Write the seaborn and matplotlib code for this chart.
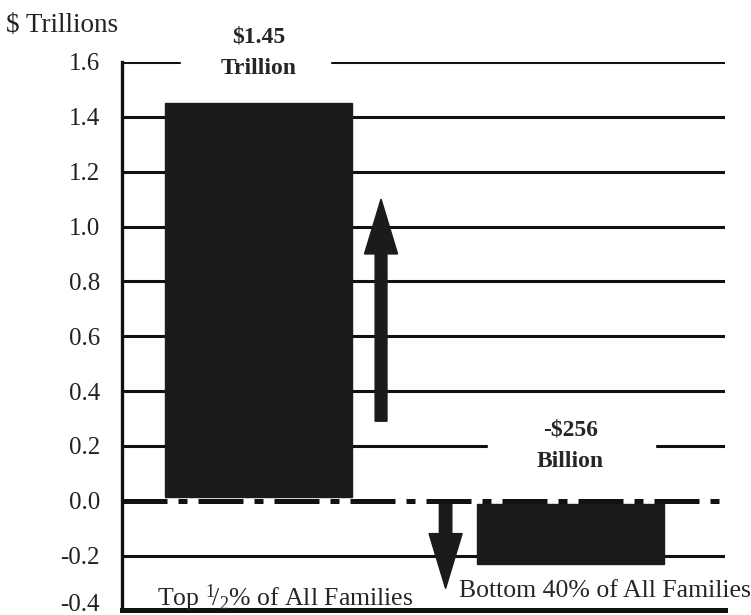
import matplotlib
matplotlib.use("Agg")
import matplotlib.pyplot as plt
import matplotlib.transforms as mtransforms
import seaborn as sns
import pandas as pd
from matplotlib.patches import Rectangle

# data ($ trillions)
groups = ["Top 1/2% of All Families", "Bottom 40% of All Families"]
group_labels = ["Top $^1\\!/_2$% of All Families", "Bottom 40% of All Families"]
change = [1.45, -0.23]
value_labels = ["\\$1.45\nTrillion", "-\\$256\nBillion"]
y_ticks = [-0.4, -0.2, 0.0, 0.2, 0.4, 0.6, 0.8, 1.0, 1.2, 1.4, 1.6]

sns.set_theme(style="white")
plt.rcParams["font.family"] = ["Liberation Serif", "DejaVu Serif"]
plt.rcParams["mathtext.fontset"] = "custom"
plt.rcParams["mathtext.rm"] = "Liberation Serif"
plt.rcParams["mathtext.it"] = "Liberation Serif:italic"

df = pd.DataFrame({"group": groups, "change": change})

fig = plt.figure(figsize=(7.51, 6.15), dpi=100)
ax = fig.add_axes([0.1625, 0.0075, 0.8025, 0.8917])

# grid lines behind the bars
for y in y_ticks:
    if y in (0.0, -0.4):
        continue
    ax.axhline(y, color="#111111", lw=2.2, zorder=1)

sns.barplot(data=df, x="group", y="change", color="#1b1b1b", width=0.6,
            saturation=1, ax=ax, zorder=2)
# leave a small gap between the bars and the zero line
gap = 0.012
for p in ax.patches:
    p.set_edgecolor("#1b1b1b")
    h = p.get_height()
    if h > 0:
        p.set_y(gap)
        p.set_height(h - gap)
    else:
        p.set_y(-gap)
        p.set_height(h + gap)

# dash-dot zero line
ax.axhline(0, color="#111111", lw=3.6, ls=(0, (9, 2.2, 1.8, 2.2)), zorder=4)

# value labels, gridline cut out behind them
ax.add_patch(Rectangle((-0.25, 1.57), 0.48, 0.06, color="white", zorder=3))
ax.add_patch(Rectangle((0.735, 0.17), 0.535, 0.06, color="white", zorder=3))
ax.text(0, 1.635, value_labels[0], ha="center", va="center", fontsize=17,
        fontweight="bold", linespacing=1.65, zorder=5, clip_on=False)
ax.text(1, 0.2, value_labels[1], ha="center", va="center", fontsize=17,
        fontweight="bold", linespacing=1.65, zorder=5)

# arrows
ax.arrow(0.393, 0.29, 0, 0.61, width=0.038, head_width=0.106, head_length=0.2,
         length_includes_head=False, color="#1b1b1b", zorder=3)
ax.arrow(0.60, 0.0, 0, -0.12, width=0.04, head_width=0.106, head_length=0.2,
         length_includes_head=False, color="#1b1b1b", zorder=3)

# group labels inside the plot
ax.text(0.085, -0.355, group_labels[0], ha="center", va="center", fontsize=18.5, zorder=5)
ax.text(1.11, -0.33, group_labels[1], ha="center", va="center", fontsize=18.5,
        zorder=5, clip_on=False)

ax.set_ylim(-0.4, 1.6)
ax.set_xlim(-0.4375, 1.495)
ax.set_yticks(y_ticks)
ax.set_yticklabels([f"{v:.1f}" for v in y_ticks])
ax.tick_params(axis="y", length=0, pad=16, labelsize=18, colors="#222222")
ax.set_xticks([])
ax.set_xlabel("")
ax.set_ylabel("")

# lift the bottom tick label a little, as in the original
lab = ax.get_yticklabels()[0]
lab.set_transform(lab.get_transform() +
                  mtransforms.ScaledTranslation(0, 6 / 72, fig.dpi_scale_trans))

for s in ["top", "right"]:
    ax.spines[s].set_visible(False)
ax.spines["left"].set_linewidth(2.4)
ax.spines["left"].set_color("#111111")
ax.spines["bottom"].set_linewidth(3.6)
ax.spines["bottom"].set_color("#111111")

fig.text(0.008, 0.958, "\\$ Trillions", fontsize=19.5, ha="left", va="center", color="#222222")

fig.savefig("out.png", dpi=100)
